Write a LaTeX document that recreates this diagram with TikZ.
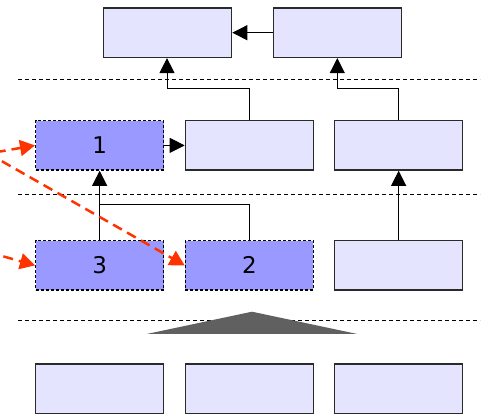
\documentclass[tikz,border=0pt]{standalone}
\usepackage{fontspec}
\setmainfont{DejaVu Sans}
\usetikzlibrary{arrows.meta}
\definecolor{boxfill}{HTML}{E4E4FF}
\definecolor{hifill}{HTML}{9999FF}
\definecolor{edge}{HTML}{2A2A2A}
\definecolor{redline}{HTML}{FF3300}
\definecolor{tri}{HTML}{606060}
\tikzset{
  x=1pt, y=-1pt,
  plainbox/.style={draw=edge, line width=1.3pt, fill=boxfill, minimum width=128pt, minimum height=49.5pt, inner sep=0pt, anchor=north west, font=\fontsize{23}{25}\selectfont},
  hibox/.style={plainbox, draw=black, fill=hifill, dashed, dash pattern=on 3pt off 2pt},
  sep/.style={line width=1pt, dash pattern=on 4pt off 3pt},
  conn/.style={line width=1pt, -{Triangle[length=15pt, width=15pt]}},
  redarrow/.style={redline, line width=2.5pt, dash pattern=on 10pt off 6pt, -{Triangle[length=15pt, width=16pt]}},
}
\begin{document}
\begin{tikzpicture}
\useasboundingbox (0,0) rectangle (488,414);
% top row
\node[plainbox] (tl) at (103,7.3) {};
\node[plainbox] (tr) at (272.7,7.3) {};
% second row
\node[hibox] (n1) at (35,120) {1};
\node[plainbox] (m2) at (184.7,120) {};
\node[plainbox] (m3) at (334,120) {};
% third row
\node[hibox] (n3) at (35,240) {3};
\node[hibox] (n2) at (184.7,240) {2};
\node[plainbox] (b3) at (334,240) {};
% bottom row
\node[plainbox] (r1) at (35,363.3) {};
\node[plainbox] (r2) at (184.7,363.3) {};
\node[plainbox] (r3) at (334,363.3) {};
% separators
\draw[sep] (18,79.3) -- (480,79.3);
\draw[sep] (18,195) -- (480,195);
\draw[sep] (18,320.7) -- (480,320.7);
% triangle
\fill[tri] (252,311.7) -- (357.3,334) -- (146.7,334) -- cycle;
% connectors
\draw[conn] (tr.west) -- (tl.east);
\draw[conn] (n1.east) -- (m2.west);
\draw[conn] (m2.north) -- ++(0,-31.3) -| (tl.south -| 167,0);
\draw[conn] (m3.north) -- ++(0,-31.3) -| (tr.south -| 337.3,0);
\draw[conn] (n3.north) -- (n1.south);
\draw[line width=1pt] (n2.north) -- ++(0,-35.3) -| (n3.north);
\draw[conn] (b3.north) -- (m3.south);
% red dashed arrows
\coordinate (s1) at (-20,155);
\coordinate (s2) at (-12,153.3);
\coordinate (s3) at (-12,252);
\draw[redarrow] (s1) -- (n1.west);
\draw[redarrow] (s2) -- (n2.west);
\draw[redarrow] (s3) -- (n3.west);
\end{tikzpicture}
\end{document}
